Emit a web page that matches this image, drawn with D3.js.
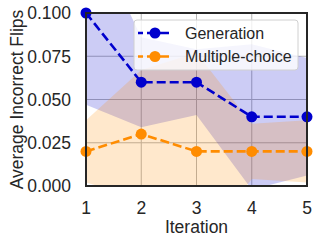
<!DOCTYPE html>
<html>
<head>
  <meta charset="utf-8">
  <script src="https://d3js.org/d3.v7.min.js"></script>
  <style>
    body { margin: 0; background: #fff; }
    text { font-family: "Liberation Sans", Arial, sans-serif; fill: #262626; }
  </style>
</head>
<body>
<script>
  // data
  var iterations = [1, 2, 3, 4, 5];
  var genMean = [0.100, 0.060, 0.060, 0.040, 0.040];
  var genStd  = [0.053, 0.026, 0.019, 0.042, 0.034];
  var mcMean  = [0.020, 0.030, 0.020, 0.020, 0.020];
  var mcStd   = [0.018, 0.037, 0.057, 0.016, 0.018];
  var yTicks  = [0, 0.025, 0.05, 0.075, 0.1];
  var seriesNames = ["Generation", "Multiple-choice"];

  var W = 319, H = 244;
  var margin = {left: 86, right: 12, top: 13, bottom: 58};
  var w = W - margin.left - margin.right,
      h = H - margin.top - margin.bottom;

  var svg = d3.select("body").append("svg")
    .attr("width", W).attr("height", H);

  var x = d3.scaleLinear().domain([1, 5]).range([0, w]);
  var y = d3.scaleLinear().domain([0, 0.1]).range([h, 0]);

  svg.append("defs").append("clipPath").attr("id", "plotclip")
    .append("rect").attr("width", w).attr("height", h);

  var g = svg.append("g")
    .attr("transform", "translate(" + margin.left + "," + margin.top + ")");

  /* grid */
  g.append("g").selectAll("line").data(iterations).enter().append("line")
    .attr("x1", d => x(d)).attr("x2", d => x(d))
    .attr("y1", 0).attr("y2", h)
    .attr("stroke", "#b5b5b5").attr("stroke-width", 1);
  g.append("g").selectAll("line").data(yTicks).enter().append("line")
    .attr("x1", 0).attr("x2", w)
    .attr("y1", d => y(d)).attr("y2", d => y(d))
    .attr("stroke", "#b5b5b5").attr("stroke-width", 1);

  var series = [
    {name: seriesNames[0], mean: genMean, std: genStd, color: "#0000cd"},
    {name: seriesNames[1], mean: mcMean, std: mcStd, color: "#ff8c00"}
  ];

  /* std bands */
  var plot = g.append("g").attr("clip-path", "url(#plotclip)");
  series.forEach(function(s) {
    var area = d3.area()
      .x((d, i) => x(iterations[i]))
      .y0((d, i) => y(s.mean[i] - s.std[i]))
      .y1((d, i) => y(s.mean[i] + s.std[i]));
    plot.append("path").datum(s.mean)
      .attr("d", area)
      .attr("fill", s.color).attr("fill-opacity", 0.2);
  });

  /* mean lines + markers */
  series.forEach(function(s) {
    var line = d3.line().x((d, i) => x(iterations[i])).y(d => y(d));
    g.append("path").datum(s.mean)
      .attr("d", line)
      .attr("fill", "none").attr("stroke", s.color)
      .attr("stroke-width", 2.6).attr("stroke-dasharray", "9,4");
    g.append("g").selectAll("circle").data(s.mean).enter().append("circle")
      .attr("cx", (d, i) => x(iterations[i])).attr("cy", d => y(d))
      .attr("r", 5.5).attr("fill", s.color);
  });

  /* frame */
  g.append("rect").attr("width", w).attr("height", h)
    .attr("fill", "none").attr("stroke", "#262626").attr("stroke-width", 2);

  /* axes tick labels */
  g.append("g").selectAll("text").data(yTicks).enter().append("text")
    .attr("x", -15).attr("y", d => y(d)).attr("dy", "0.36em")
    .attr("text-anchor", "end").style("font-size", "17.5px")
    .text(d3.format(".3f"));
  g.append("g").selectAll("text").data(iterations).enter().append("text")
    .attr("x", d => x(d)).attr("y", h + 28)
    .attr("text-anchor", "middle").style("font-size", "17.5px")
    .text(d => d);

  svg.append("text")
    .attr("x", margin.left + w / 2).attr("y", 233)
    .attr("text-anchor", "middle").style("font-size", "17.5px")
    .text("Iteration");
  svg.append("text")
    .attr("transform", "translate(23," + (margin.top + h / 2) + ") rotate(-90)")
    .attr("text-anchor", "middle").style("font-size", "17.5px")
    .text("Average Incorrect Flips");

  /* legend */
  var leg = svg.append("g").attr("transform", "translate(134,20)");
  leg.append("rect").attr("width", 164).attr("height", 50).attr("rx", 3)
    .attr("fill", "#fff").attr("fill-opacity", 0.8)
    .attr("stroke", "#d0d0d0").attr("stroke-width", 1);
  series.forEach(function(s, i) {
    var ly = 13 + i * 23.5;
    leg.append("line").attr("x1", 4).attr("x2", 37).attr("y1", ly).attr("y2", ly)
      .attr("stroke", s.color).attr("stroke-width", 2.6)
      .attr("stroke-dasharray", "9,4").attr("stroke-dashoffset", -9);
    leg.append("circle").attr("cx", 21).attr("cy", ly).attr("r", 5.5).attr("fill", s.color);
    leg.append("text").attr("x", 51).attr("y", ly).attr("dy", "0.36em")
      .style("font-size", "16px").text(s.name);
  });
</script>
</body>
</html>
